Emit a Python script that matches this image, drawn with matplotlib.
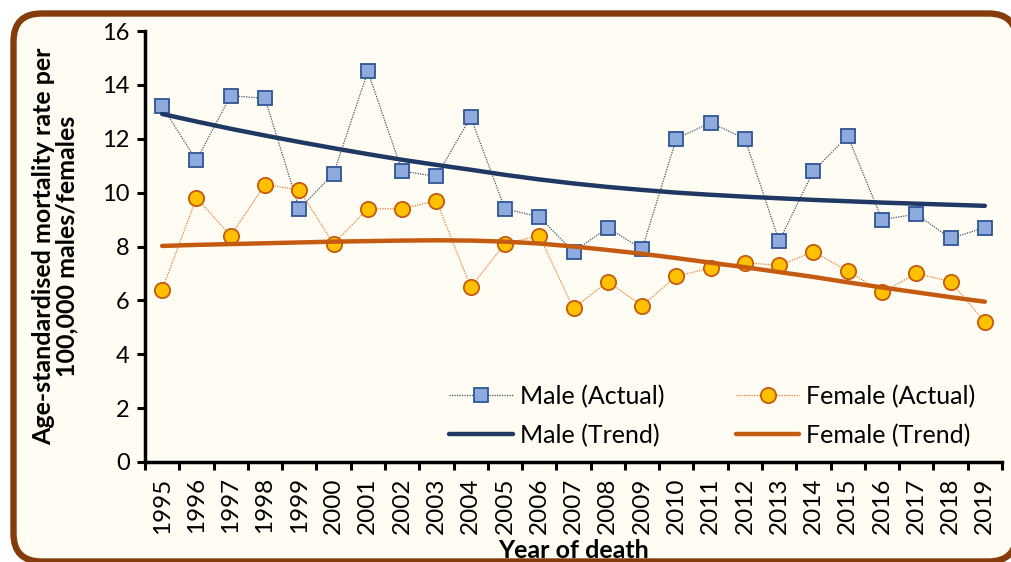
import matplotlib
matplotlib.use("Agg")
import matplotlib.pyplot as plt
from matplotlib.patches import FancyBboxPatch
from matplotlib.transforms import IdentityTransform

plt.rcParams['font.family'] = ['Lato', 'DejaVu Sans']

years = [str(y) for y in range(1995, 2020)]
male_actual = [13.2, 11.2, 13.6, 13.5, 9.4, 10.7, 14.5, 10.8, 10.6, 12.8, 9.4, 9.1,
               7.8, 8.7, 7.9, 12.0, 12.6, 12.0, 8.2, 10.8, 12.1, 9.0, 9.2, 8.3, 8.7]
female_actual = [6.4, 9.8, 8.4, 10.3, 10.1, 8.1, 9.4, 9.4, 9.7, 6.5, 8.1, 8.4,
                 5.7, 6.7, 5.8, 6.9, 7.2, 7.4, 7.3, 7.8, 7.1, 6.3, 7.0, 6.7, 5.2]
male_trend = [12.92, 12.64, 12.37, 12.12, 11.88, 11.65, 11.43, 11.22, 11.03, 10.85,
              10.66, 10.49, 10.34, 10.21, 10.10, 10.00, 9.92, 9.85, 9.79, 9.73,
              9.68, 9.63, 9.59, 9.55, 9.51]
female_trend = [8.02, 8.06, 8.09, 8.12, 8.15, 8.18, 8.20, 8.22, 8.23, 8.22,
                8.18, 8.11, 8.00, 7.87, 7.73, 7.57, 7.40, 7.23, 7.05, 6.87,
                6.67, 6.48, 6.30, 6.12, 5.95]
yticks = [0, 2, 4, 6, 8, 10, 12, 14, 16]

W, H = 1011, 562
fig = plt.figure(figsize=(W / 100, H / 100), dpi=100, facecolor='white')

# rounded frame (extends slightly past the right and bottom edges)
frame = FancyBboxPatch((13.5, 0.5), 1003, 548, boxstyle="round,pad=0,rounding_size=28",
                       transform=IdentityTransform(), facecolor='#FFFCF3',
                       edgecolor='#843C0C', linewidth=4.6, zorder=-10)
fig.patches.append(frame)

ax = fig.add_axes([145 / W, 1 - 462 / H, 857 / W, 431 / H])
ax.patch.set_alpha(0)

x = list(range(len(years)))
ax.plot(x, male_actual, linestyle=(0, (1, 1)), color='#44546A', linewidth=0.9,
        marker='s', markersize=10.5, markerfacecolor='#8FAADC',
        markeredgecolor='#2F5597', markeredgewidth=1.3, label='Male (Actual)', zorder=3)
ax.plot(x, female_actual, linestyle=(0, (1, 1)), color='#ED7D31', linewidth=0.9,
        marker='o', markersize=11, markerfacecolor='#FFC000',
        markeredgecolor='#C55A11', markeredgewidth=1.3, label='Female (Actual)', zorder=3)
ax.plot(x, male_trend, color='#1F3864', linewidth=3.2, solid_capstyle='round',
        label='Male (Trend)', zorder=4)
ax.plot(x, female_trend, color='#C55A11', linewidth=3.2, solid_capstyle='round',
        label='Female (Trend)', zorder=4)

ax.set_xlim(-0.5, len(years) - 0.5)
ax.set_ylim(0, 16)
ax.set_yticks(yticks)
ax.set_yticklabels([str(v) for v in yticks], fontsize=17)
ax.set_xticks([i - 0.5 for i in range(len(years) + 1)])
ax.set_xticklabels([])
ax.set_xticks(x, minor=True)
ax.set_xticklabels(years, minor=True, rotation=90, fontsize=17.5)
ax.tick_params(axis='x', which='minor', length=0, pad=11)
ax.tick_params(axis='x', which='major', length=6, width=2.2, direction='out')
ax.tick_params(axis='y', length=6, width=2.2, direction='out', pad=5)

for s in ['top', 'right']:
    ax.spines[s].set_visible(False)
for s in ['left', 'bottom']:
    ax.spines[s].set_linewidth(2.5)
    ax.spines[s].set_color('black')

ax.set_xlabel('Year of death', fontsize=18, fontweight='bold', labelpad=4)
fig.text(55 / W, 1 - 246 / H, 'Age-standardised mortality rate per\n100,000 males/females',
         rotation=90, ha='center', va='center', multialignment='center',
         fontsize=18, fontweight='bold', linespacing=1.0)

handles, labels = ax.get_legend_handles_labels()
order = [0, 2, 1, 3]
leg = ax.legend([handles[i] for i in order], [labels[i] for i in order], ncol=2,
                loc='lower left', bbox_to_anchor=(0.355, 0.035), frameon=False,
                fontsize=18, handlelength=2.55, handletextpad=0.28,
                columnspacing=2.85, labelspacing=0.62, borderpad=0, borderaxespad=0)

fig.savefig('out.png', dpi=100, facecolor='white')
